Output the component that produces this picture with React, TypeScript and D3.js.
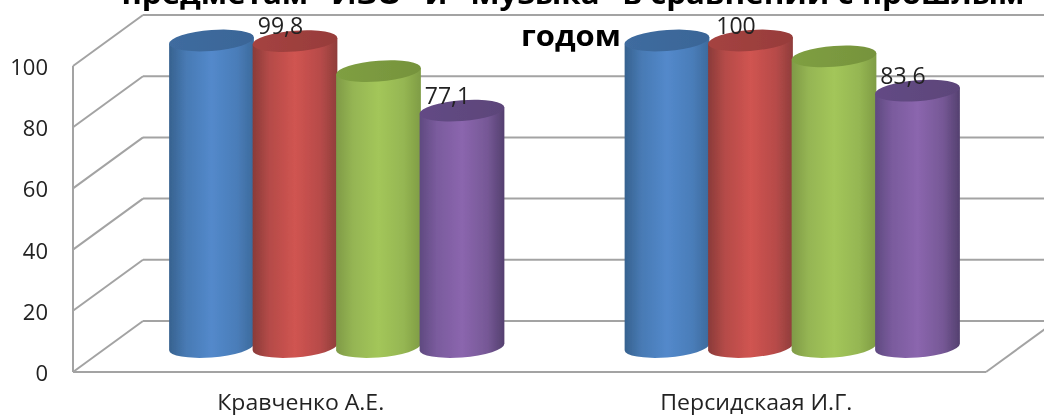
import React from "react";
import * as d3 from "d3";

const categories = ["Кравченко А.Е.", "Персидскаая И.Г."];
const seriesNames = ["s1", "s2", "s3", "s4"];
const seriesA = [100, 100];
const seriesB = [99.8, 100];
const seriesC = [90, 94.8];
const seriesD = [77.1, 83.6];
const seriesValues = [seriesA, seriesB, seriesC, seriesD];
const labelsA: (string | null)[] = [null, null];
const labelsB: (string | null)[] = ["99,8", "100"];
const labelsC: (string | null)[] = [null, null];
const labelsD: (string | null)[] = ["77,1", "83,6"];
const seriesLabels = [labelsA, labelsB, labelsC, labelsD];
const ticks = [0, 20, 40, 60, 80, 100];
const titleLines = ["предметам  \"ИЗО\"  и  \"Музыка\"  в сравнении с прошлым", "годом"];

const sideColors = [
  ["#37628f", "#5389cb", "#3c6a9c"],
  ["#8a3b39", "#d05451", "#8f3d3b"],
  ["#7f9a47", "#a3c65a", "#7f9c45"],
  ["#5f4a80", "#8b66ae", "#54406f"],
];
const topColors = [
  ["#3f6c9f", "#3a6597"],
  ["#a54341", "#973c3a"],
  ["#7f9f42", "#76933c"],
  ["#634a85", "#5c4579"],
];

const W = 1044;
const H = 415;
const depthX = 70;
const depthY = -51;
const ringA = 42.5;
const ringB = 10.4;
const tilt = (-4.5 * Math.PI) / 180;

const FONT = "'Open Sans', sans-serif";

export default function App() {
  const y = d3.scaleLinear().domain([0, 100]).range([372, 66]);
  const x0 = d3.scaleBand().domain(categories).range([74, 985]);
  const xs = d3.scaleBand().domain(seriesNames).range([-167, 167]);
  const grid = "#a3a3a3";

  const halfW = Math.sqrt(ringA ** 2 * Math.cos(tilt) ** 2 + ringB ** 2 * Math.sin(tilt) ** 2);
  const edgeDy = ((ringA ** 2 - ringB ** 2) * Math.sin(tilt) * Math.cos(tilt)) / halfW;
  const rot = (tilt * 180) / Math.PI;
  const centerX = (s: number, c: number) =>
    x0(categories[c])! + x0.bandwidth() / 2 + depthX / 2 + xs(seriesNames[s])! + xs.bandwidth() / 2;

  return (
    <svg
      width={W}
      height={H}
      viewBox={`0 0 ${W} ${H}`}
      style={{ position: "fixed", left: 0, top: 0, display: "block", background: "#fff" }}
    >
      <defs>
        <filter id="soft" x="-5%" y="-5%" width="110%" height="110%">
          <feGaussianBlur stdDeviation="0.65" />
        </filter>
        {sideColors.map((c, i) => (
          <linearGradient key={i} id={`side${i}`} x1="0" x2="1" y1="0" y2="0">
            <stop offset="0" stopColor={c[0]} />
            <stop offset="0.2" stopColor={d3.interpolateRgb(c[0], c[1])(0.62)} />
            <stop offset="0.5" stopColor={c[1]} />
            <stop offset="0.8" stopColor={d3.interpolateRgb(c[2], c[1])(0.62)} />
            <stop offset="1" stopColor={c[2]} />
          </linearGradient>
        ))}
        {topColors.map((c, i) => (
          <linearGradient key={i} id={`top${i}`} x1="0" x2="1" y1="0" y2="0">
            <stop offset="0" stopColor={c[0]} />
            <stop offset="1" stopColor={c[1]} />
          </linearGradient>
        ))}
      </defs>
      <g filter="url(#soft)">
        {ticks.map((t) => (
          <g key={t}>
            <line x1={73} x2={73 + depthX} y1={y(t)} y2={y(t) + depthY} stroke={grid} strokeWidth={2} />
            <line x1={73 + depthX} x2={W + 20} y1={y(t) + depthY} y2={y(t) + depthY} stroke={grid} strokeWidth={2} />
            <text x={48} y={y(t) + 9} textAnchor="end" fontFamily={FONT} fontSize={22} fill="#222">
              {t}
            </text>
          </g>
        ))}
        <line x1={73} x2={73} y1={y(100)} y2={y(0)} stroke={grid} strokeWidth={2} />
        <line x1={73} x2={986} y1={y(0)} y2={y(0)} stroke={grid} strokeWidth={2} />
        <line x1={986} x2={986 + depthX} y1={y(0)} y2={y(0) + depthY} stroke={grid} strokeWidth={2} />

        {seriesValues.map((vals, s) =>
          vals.map((v, c) => {
            const cx = centerX(s, c);
            const topY = y(v) + depthY / 2;
            const baseY = y(0) + depthY / 2 + 0.5;
            const lx = cx - halfW;
            const rx = cx + halfW;
            const body =
              `M${lx},${topY - edgeDy}L${lx},${baseY - edgeDy}` +
              `A${ringA},${ringB} ${rot} 0 0 ${rx},${baseY + edgeDy}` +
              `L${rx},${topY + edgeDy}Z`;
            const top =
              `M${lx},${topY - edgeDy}A${ringA},${ringB} ${rot} 1 1 ${rx},${topY + edgeDy}` +
              `A${ringA},${ringB} ${rot} 1 1 ${lx},${topY - edgeDy}Z`;
            return (
              <g key={`${s}-${c}`}>
                <path d={body} fill={`url(#side${s})`} />
                <path d={top} fill={`url(#top${s})`} />
              </g>
            );
          })
        )}

        {seriesLabels.map((labels, s) =>
          labels.map((text, c) =>
            text === null ? null : (
              <text
                key={`${s}-${c}`}
                x={centerX(s, c) - 14.5}
                y={y(seriesValues[s][c]) + depthY / 2 - 7}
                textAnchor="middle"
                fontFamily={FONT}
                fontSize={23}
                fill="#222"
              >
                {text}
              </text>
            )
          )
        )}

        {categories.map((c, i) => (
          <text
            key={c}
            x={x0(c)! + x0.bandwidth() / 2 - 1}
            y={410}
            textAnchor="middle"
            fontFamily={FONT}
            fontSize={21}
            fill="#222"
            textLength={i === 0 ? 167 : 192}
            lengthAdjust="spacingAndGlyphs"
          >
            {c}
          </text>
        ))}

        <text x={573} y={4} textAnchor="middle" fontFamily={FONT} fontWeight={700} fontSize={28} fill="#000" textLength={903} lengthAdjust="spacingAndGlyphs">
          {titleLines[0]}
        </text>
        <text x={571} y={46} textAnchor="middle" fontFamily={FONT} fontWeight={700} fontSize={28} fill="#000" textLength={100} lengthAdjust="spacingAndGlyphs">
          {titleLines[1]}
        </text>
      </g>
    </svg>
  );
}
